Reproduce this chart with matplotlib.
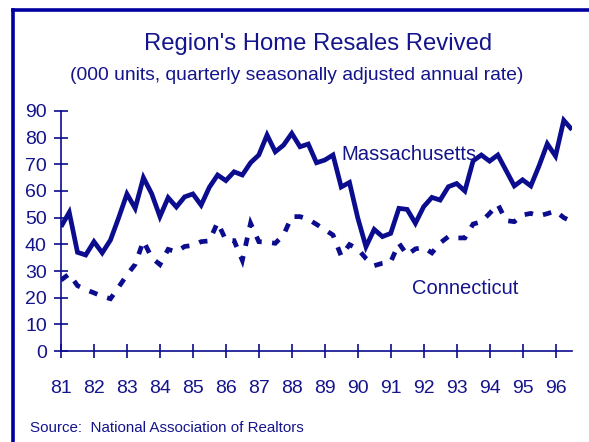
import matplotlib
matplotlib.use("Agg")
import matplotlib.pyplot as plt
from matplotlib.lines import Line2D

# kvartalsdata 1981Q1 - 1996Q3 (tusinde enheder)
years_start = 81
massachusetts = [46.6, 52.0, 37.0, 36.0, 41.0, 36.8, 41.6, 50.0, 58.9, 53.5,
                 65.0, 59.0, 50.4, 57.5, 54.0, 57.8, 58.9, 54.7, 61.4, 66.0,
                 63.9, 67.2, 66.0, 70.6, 73.5, 81.0, 74.7, 77.2, 81.6, 76.6,
                 77.6, 70.6, 71.6, 73.5, 61.5, 63.2, 50.0, 39.1, 45.6, 42.9,
                 44.1, 53.5, 53.1, 47.9, 54.1, 57.6, 56.6, 61.6, 62.8, 60.0,
                 71.3, 73.5, 71.2, 73.5, 67.7, 61.9, 64.2, 61.9, 69.4, 77.7,
                 73.1, 86.5, 83.0]
connecticut = [26.6, 28.9, 24.5, 23.0, 21.8, 20.5, 19.6, 24.0, 28.5, 32.5,
               41.3, 35.0, 32.4, 38.1, 37.2, 39.2, 39.6, 41.0, 41.3, 48.2,
               41.6, 41.4, 34.0, 47.9, 41.0, 40.8, 40.4, 43.5, 50.4, 50.4,
               49.4, 47.5, 45.5, 43.5, 35.6, 39.9, 38.3, 34.7, 32.0, 32.9,
               33.4, 40.4, 36.0, 38.3, 38.8, 36.8, 40.5, 42.9, 42.4, 42.4,
               47.6, 48.5, 51.6, 55.0, 48.9, 48.5, 51.0, 51.6, 50.7, 51.5,
               52.5, 50.0, 48.5]
year_labels = [str(y) for y in range(81, 97)]

x = [years_start + i / 4 for i in range(len(massachusetts))]

navy = '#0c0c8f'
text_col = '#14148c'
plt.rcParams['font.family'] = ['Liberation Sans', 'DejaVu Sans']

fig = plt.figure(figsize=(5.89, 4.42), dpi=100)
ax = fig.add_axes([61 / 589, 1 - 351 / 442, (572 - 61) / 589, (351 - 111) / 442])

ax.plot(x, massachusetts, color=navy, lw=3.4, solid_joinstyle='miter',
        solid_capstyle='butt')
ax.plot(x, connecticut, color=navy, lw=3.4, dashes=(1.8, 2.2),
        dash_capstyle='butt', dash_joinstyle='miter')

ax.set_xlim(81, 96.5)
ax.set_ylim(0, 90)
ax.set_xticks(range(81, 97))
ax.set_xticklabels(year_labels)
ax.set_yticks(range(0, 91, 10))

for side in ['top', 'right']:
    ax.spines[side].set_visible(False)
for side in ['left', 'bottom']:
    ax.spines[side].set_color(navy)
    ax.spines[side].set_linewidth(1.2)

ax.tick_params(axis='y', direction='inout', length=9.5, width=1.2, color=navy,
               labelcolor=text_col, labelsize=14, pad=5.5)
ax.tick_params(axis='x', direction='inout', length=9.5, width=1.2, color=navy,
               labelcolor=text_col, labelsize=14, pad=16)

ax.text(341.7 / 589, 1 - 155 / 442, 'Massachusetts', transform=fig.transFigure,
        color=text_col, fontsize=14.6, va='center', ha='left')
ax.text(411.7 / 589, 1 - 288 / 442, 'Connecticut', transform=fig.transFigure,
        color=text_col, fontsize=14.5, va='center', ha='left')

fig.text(318 / 589, 1 - 44 / 442, "Region's Home Resales Revived",
         color=text_col, fontsize=17.2, ha='center', va='center')
fig.text(297 / 589, 1 - 75 / 442, '(000 units, quarterly seasonally adjusted annual rate)',
         color=text_col, fontsize=13.9, ha='center', va='center')
fig.text(30 / 589, 1 - 428 / 442, 'Source:  National Association of Realtors',
         color=text_col, fontsize=10.9, ha='left', va='center')

# ramme (venstre og top)
fig.add_artist(Line2D([12.5 / 589, 12.5 / 589], [0, 1 - 9.5 / 442],
                      transform=fig.transFigure, color='#0000a0', lw=2.6,
                      solid_capstyle='projecting'))
fig.add_artist(Line2D([12.5 / 589, 1], [1 - 9.5 / 442, 1 - 9.5 / 442],
                      transform=fig.transFigure, color='#0000a0', lw=2.6,
                      solid_capstyle='projecting'))

fig.savefig('out.png', dpi=100)
